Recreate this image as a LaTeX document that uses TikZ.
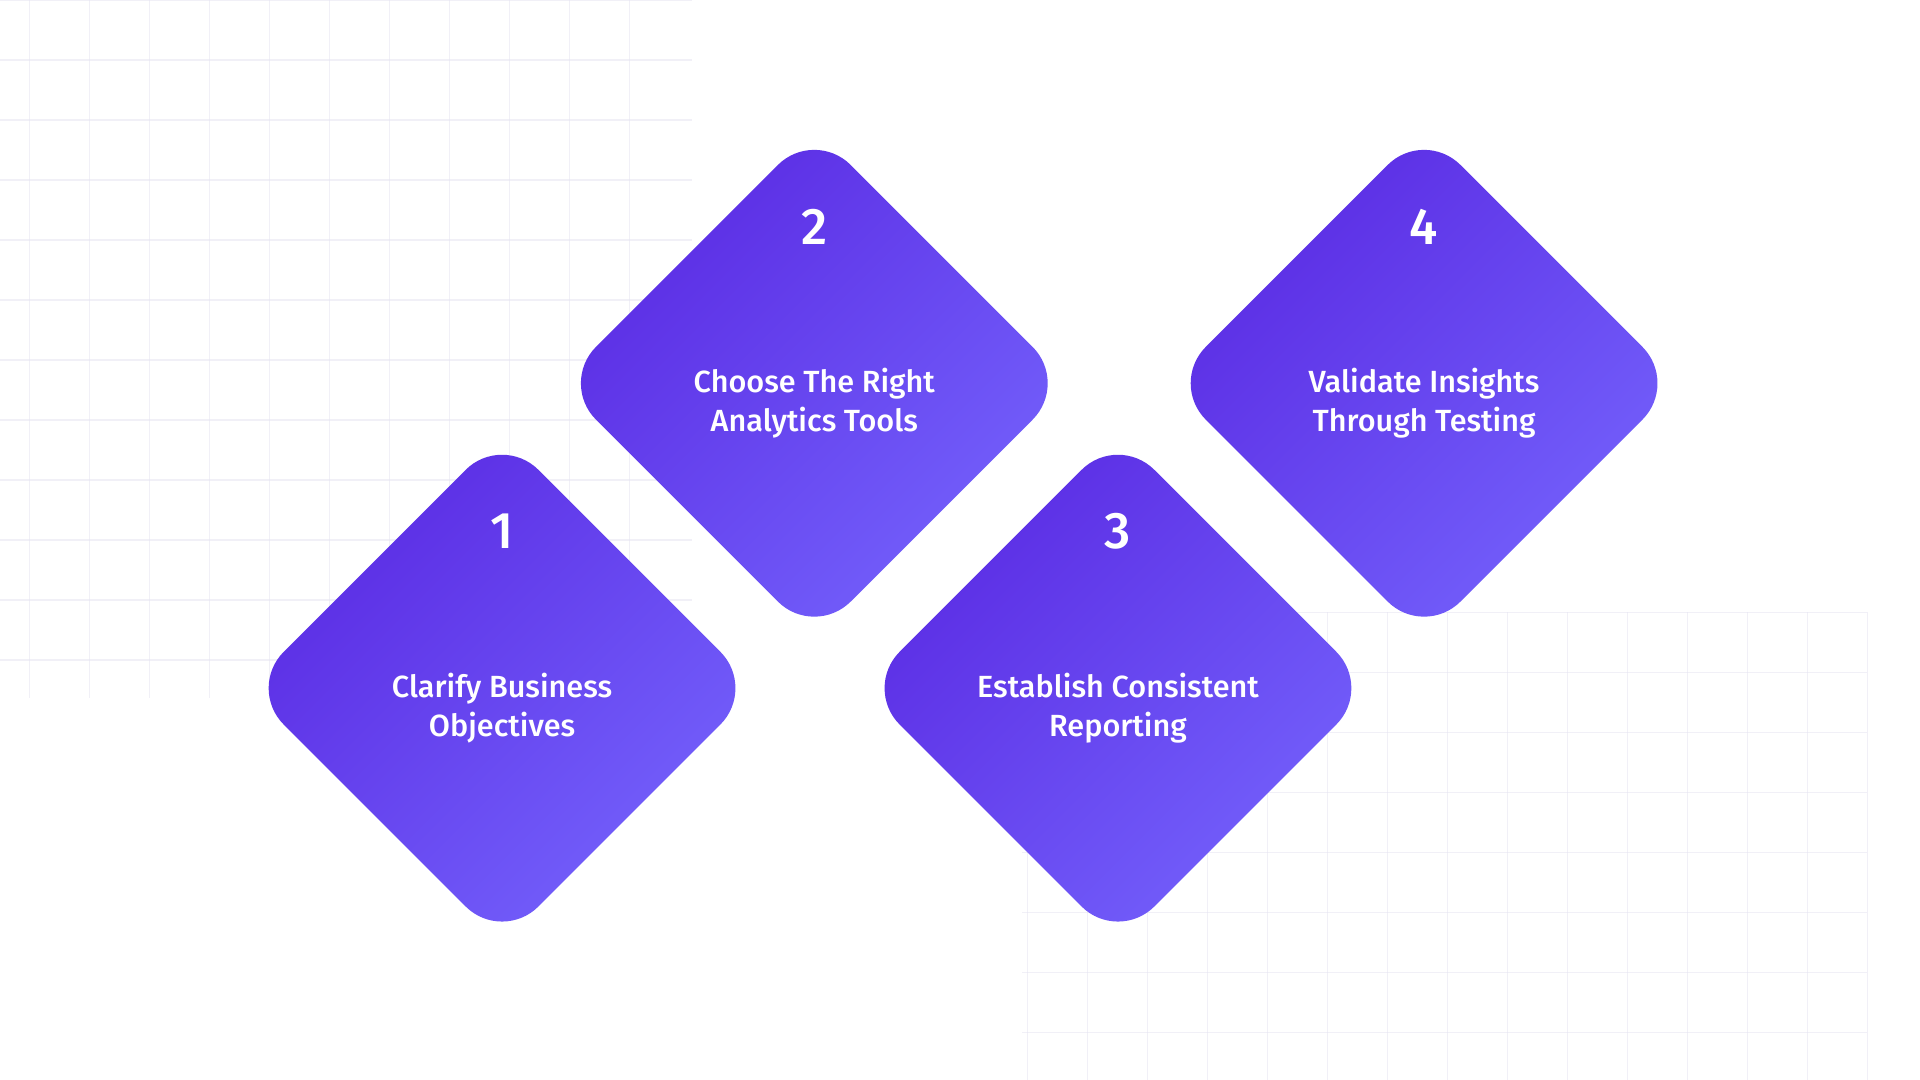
\documentclass[tikz,border=0pt]{standalone}
\usepackage{fontspec}
\setmainfont{Fira Sans}[BoldFont={Fira Sans Medium}]
\definecolor{dk}{HTML}{5A2AE3}
\definecolor{lt}{HTML}{7462FC}
\definecolor{gridc}{HTML}{E6E5F2}
\tikzset{
  gline/.style={draw=gridc, line width=1pt},
  lbl/.style={text=white, font=\bfseries\fontsize{25}{32}\selectfont, align=center},
  num/.style={text=white, font=\bfseries\fontsize{42}{42}\selectfont},
}
\newcommand{\dia}[5]{%
  \shade[top color=dk, bottom color=lt, shading angle=45, rounded corners=42pt]
    (#1,#2-208) -- (#1+208,#2) -- (#1,#2+208) -- (#1-208,#2) -- cycle;
  \node[num] (n#3) at (#1,#2-128) {#4};
  \node[lbl] (t#3) at (#1,#2+16) {#5};
}
\begin{document}
\begin{tikzpicture}[x=1pt,y=-1pt]
\useasboundingbox (0,0) rectangle (1568,882);
\fill[white] (0,0) rectangle (1568,882);
\begin{scope}[opacity=0.55]
\foreach \x in {24,73,...,560} \draw[gline] (\x,0) -- (\x,570);
\foreach \y in {0,49,...,560} \draw[gline] (0,\y) -- (565,\y);
\foreach \x in {839,888,...,1530} \draw[gline] (\x,500) -- (\x,882);
\foreach \y in {500,549,...,882} \draw[gline] (835,\y) -- (1525,\y);
\end{scope}
\dia{410}{562}{1}{1}{Clarify Business\\Objectives}
\dia{665}{313}{2}{2}{Choose The Right\\Analytics Tools}
\dia{913}{562}{3}{3}{Establish Consistent\\Reporting}
\dia{1163}{313}{4}{4}{Validate Insights\\Through Testing}
\end{tikzpicture}
\end{document}
